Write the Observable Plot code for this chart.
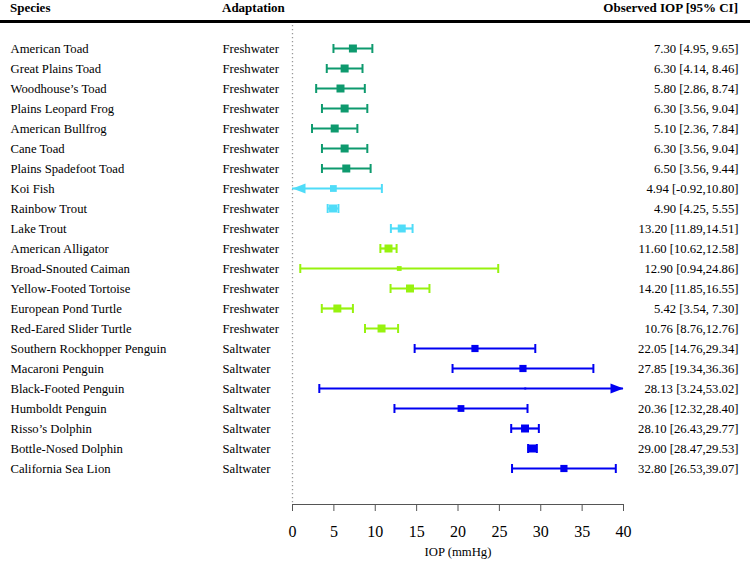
<!DOCTYPE html>
<html>
<head>
<meta charset="utf-8">
<script src="https://cdn.jsdelivr.net/npm/d3@7"></script>
<script src="https://cdn.jsdelivr.net/npm/@observablehq/plot@0.6"></script>
<style>
  body { margin: 0; background: #fff; font-family: "Liberation Serif", "Times New Roman", serif; }
  #wrap { width: 750px; }
  #hdr { position: relative; width: 750px; height: 20px; border-bottom: 3px solid #000; font-weight: bold; font-size: 13px; line-height: 13px; }
  #hdr span { position: absolute; top: 1px; }
</style>
</head>
<body>
<div id="wrap">
  <div id="hdr">
    <span style="left:10px">Species</span>
    <span style="left:222px">Adaptation</span>
    <span style="right:12px">Observed IOP [95% CI]</span>
  </div>
  <div id="chart"></div>
</div>
<script>
const species = [
  "American Toad", "Great Plains Toad", "Woodhouse\u2019s Toad", "Plains Leopard Frog",
  "American Bullfrog", "Cane Toad", "Plains Spadefoot Toad", "Koi Fish", "Rainbow Trout",
  "Lake Trout", "American Alligator", "Broad-Snouted Caiman", "Yellow-Footed Tortoise",
  "European Pond Turtle", "Red-Eared Slider Turtle", "Southern Rockhopper Penguin",
  "Macaroni Penguin", "Black-Footed Penguin", "Humboldt Penguin", "Risso\u2019s Dolphin",
  "Bottle-Nosed Dolphin", "California Sea Lion"
];
const adaptation = [
  "Freshwater", "Freshwater", "Freshwater", "Freshwater", "Freshwater", "Freshwater",
  "Freshwater", "Freshwater", "Freshwater", "Freshwater", "Freshwater", "Freshwater",
  "Freshwater", "Freshwater", "Freshwater", "Saltwater", "Saltwater", "Saltwater",
  "Saltwater", "Saltwater", "Saltwater", "Saltwater"
];
const groups = [
  "Amphibian", "Amphibian", "Amphibian", "Amphibian", "Amphibian", "Amphibian", "Amphibian",
  "Fish", "Fish", "Fish",
  "Reptile", "Reptile", "Reptile", "Reptile", "Reptile",
  "Marine", "Marine", "Marine", "Marine", "Marine", "Marine", "Marine"
];
const estimate = [7.30, 6.30, 5.80, 6.30, 5.10, 6.30, 6.50, 4.94, 4.90, 13.20, 11.60, 12.90, 14.20, 5.42, 10.76, 22.05, 27.85, 28.13, 20.36, 28.10, 29.00, 32.80];
const lower    = [4.95, 4.14, 2.86, 3.56, 2.36, 3.56, 3.56, -0.92, 4.25, 11.89, 10.62, 0.94, 11.85, 3.54, 8.76, 14.76, 19.34, 3.24, 12.32, 26.43, 28.47, 26.53];
const upper    = [9.65, 8.46, 8.74, 9.04, 7.84, 9.04, 9.44, 10.80, 5.55, 14.51, 12.58, 24.86, 16.55, 7.30, 12.76, 29.34, 36.36, 53.02, 28.40, 29.77, 29.53, 39.07];
// relative study weight (box size)
const weight   = [1, 1, 1, 1, 1, 1, 1, 0.85, 1, 1, 1, 0.6, 1, 1, 1, 0.9, 0.9, 0.25, 0.85, 1, 1, 0.9];
const xTicks = [0, 5, 10, 15, 20, 25, 30, 35, 40];

const groupDomain = ["Amphibian", "Fish", "Reptile", "Marine"];
const groupColors = ["#0E9A6E", "#4FDCF8", "#97F20E", "#0000F2"];

const fmt = v => v.toFixed(2);
const data = species.map((s, i) => ({
  species: s,
  adaptation: adaptation[i],
  group: groups[i],
  est: estimate[i],
  lo: lower[i],
  hi: upper[i],
  w: weight[i],
  label: `${fmt(estimate[i])} [${fmt(lower[i])},${fmt(upper[i]).padStart(5, " ")}]`
}));

const arrowSymbol = {
  draw(context, size) {
    const r = Math.sqrt(size / Math.PI);
    context.moveTo(1.3 * r, 0);
    context.lineTo(-1.3 * r, -r);
    context.lineTo(-1.3 * r, r);
    context.closePath();
  }
};
const capSymbol = {
  draw(context, size) {
    const r = Math.sqrt(size / Math.PI);
    context.moveTo(0, -r);
    context.lineTo(0, r);
  }
};

const xMin = xTicks[0], xMax = xTicks[xTicks.length - 1];

const chart = Plot.plot({
  width: 750,
  height: 544,
  marginLeft: 292,
  marginRight: 127,
  marginTop: 0,
  marginBottom: 63,
  style: { fontFamily: "'Liberation Serif', 'Times New Roman', serif", fontSize: "12.7px", color: "#000", background: "#fff" },
  x: { domain: [xMin, xMax], clamp: true },
  y: { type: "point", domain: species, range: [18.7, 451.3], padding: 0, axis: null },
  color: { domain: groupDomain, range: groupColors },
  r: { type: "linear", domain: [0, 1], range: [0, 4.51] },
  marks: [
    Plot.ruleX([0], { stroke: "#999", strokeWidth: 1.3, strokeDasharray: "1.3,2.7", insetTop: 2 }),
    Plot.frame({ anchor: "bottom", stroke: "#555" }),
    Plot.axisX({ ticks: xTicks, tickSize: 7, tickPadding: 14, fontSize: 16, label: null, stroke: "#555", fill: "#000", tickFormat: d => String(d) }),
    Plot.ruleY(data, { y: "species", x1: "lo", x2: "hi", stroke: "group", strokeWidth: 2.2 }),
    Plot.dot(data.filter(d => d.lo >= xMin), { x: "lo", y: "species", symbol: capSymbol, r: 4.5, stroke: "group", fill: "none", strokeWidth: 2 }),
    Plot.dot(data.filter(d => d.hi <= xMax), { x: "hi", y: "species", symbol: capSymbol, r: 4.5, stroke: "group", fill: "none", strokeWidth: 2 }),
    Plot.dot(data.filter(d => d.lo < xMin), { x: "lo", y: "species", symbol: arrowSymbol, r: 5, rotate: 180, fill: "group", stroke: null, dx: 6.5 }),
    Plot.dot(data.filter(d => d.hi > xMax), { x: "hi", y: "species", symbol: arrowSymbol, r: 5, fill: "group", stroke: null, dx: -6.5 }),
    Plot.dot(data, { x: "est", y: "species", r: "w", symbol: "square", fill: "group", stroke: null }),
    Plot.text(data, { y: "species", text: "species", frameAnchor: "left", textAnchor: "start", dx: -282, fill: "#000" }),
    Plot.text(data, { y: "species", text: "adaptation", frameAnchor: "left", textAnchor: "start", dx: -70, fill: "#000" }),
    Plot.text(data, { y: "species", text: "label", frameAnchor: "right", textAnchor: "end", dx: 115, fill: "#000" }),
    Plot.text(["IOP (mmHg)"], { text: d => d, frameAnchor: "bottom", dy: 51, fill: "#000" })
  ]
});
document.getElementById("chart").appendChild(chart);
</script>
</body>
</html>
